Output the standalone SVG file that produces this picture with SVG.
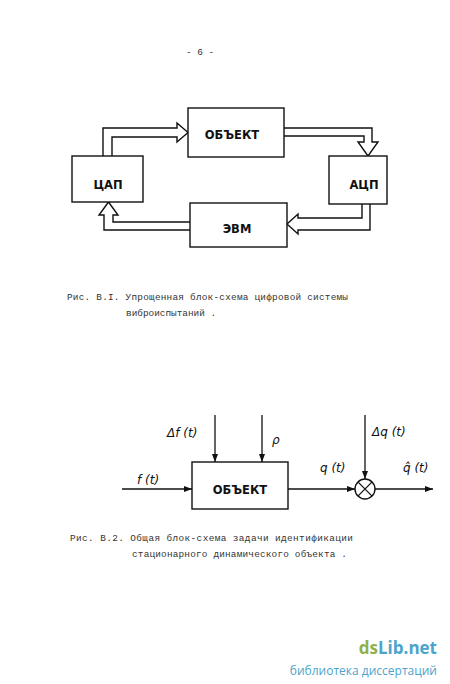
<svg xmlns="http://www.w3.org/2000/svg" width="450" height="684" viewBox="0 0 450 684">
<defs>
<style>
.box{fill:#fff;stroke:#111;stroke-width:1.4}
.ha{fill:#fff;stroke:#111;stroke-width:1.4;stroke-linejoin:miter}
.ln{fill:none;stroke:#111;stroke-width:1.3}
.lbl{font-family:"DejaVu Sans","Liberation Sans",sans-serif;font-weight:bold;font-size:11.5px;fill:#111;text-anchor:middle}
.cap{font-family:"Liberation Mono","DejaVu Sans Mono",monospace;font-size:9.4px;fill:#333}
.sig{font-family:"DejaVu Sans","Liberation Sans",sans-serif;font-style:italic;font-size:12px;fill:#111}
</style>
<marker id="ar" markerWidth="8" markerHeight="6" refX="8" refY="3" orient="auto" markerUnits="userSpaceOnUse">
<path d="M0,0 L8,3 L0,6 Z" fill="#111"/>
</marker>
</defs>
<rect width="450" height="684" fill="#fff"/>
<text x="200" y="55" class="cap" font-size="12" text-anchor="middle">- 6 -</text>

<g id="connectors-top">
<path class="ha" d="M103,156 V128 H177 V123 L188,132.5 L177,142 V137 H112 V156"/>
<path class="ha" d="M284,128 H372 V142 H378 L368,156 L358,142 H364 V136 H284"/>
<path class="ha" d="M362,204 V218 H298 V214 L287,224 L298,234 V230 H370 V204"/>
<path class="ha" d="M190,222 H113 V215 H118 L108.5,202 L99,215 H104 V230 H190"/>
</g>
<g id="obj1"><rect class="box" x="188" y="108" width="96" height="49"/><text class="lbl" x="232" y="139">ОБЪЕКТ</text></g>
<g id="dac"><rect class="box" x="72" y="156" width="71" height="46"/><text class="lbl" x="108" y="189">ЦАП</text></g>
<g id="adc"><rect class="box" x="329" y="156" width="58" height="48"/><text class="lbl" x="364" y="189">АЦП</text></g>
<g id="evm"><rect class="box" x="190" y="203" width="97" height="44"/><text class="lbl" x="237" y="233">ЭВМ</text></g>

<text class="cap" x="67" y="300" textLength="281">Рис. В.I. Упрощенная блок-схема цифровой системы</text>
<text class="cap" x="126" y="316">виброиспытаний .</text>

<g id="connectors-bottom">
<line class="ln" x1="122" y1="489" x2="192" y2="489" marker-end="url(#ar)"/>
<line class="ln" x1="215" y1="415" x2="215" y2="462" marker-end="url(#ar)"/>
<line class="ln" x1="262" y1="415" x2="262" y2="462" marker-end="url(#ar)"/>
<line class="ln" x1="288" y1="489" x2="355" y2="489" marker-end="url(#ar)"/>
<line class="ln" x1="365" y1="415" x2="365" y2="479" marker-end="url(#ar)"/>
<line class="ln" x1="375" y1="489" x2="433" y2="489" marker-end="url(#ar)"/>
</g>
<g id="obj2"><rect class="box" x="192" y="462" width="96" height="47"/><text class="lbl" x="240" y="494">ОБЪЕКТ</text></g>
<g id="sum"><circle class="box" cx="365" cy="489" r="10"/><path class="ln" d="M357.9,481.9 L372.1,496.1 M372.1,481.9 L357.9,496.1"/></g>
<text class="sig" x="137" y="484">f (t)</text>
<text class="sig" x="167" y="437">Δf (t)</text>
<text class="sig" x="272" y="444">ρ</text>
<text class="sig" x="320" y="472">q (t)</text>
<text class="sig" x="372" y="436">Δq (t)</text>
<text class="sig" x="403" y="472">q̂ (t)</text>

<text class="cap" x="70" y="541" textLength="283">Рис. В.2. Общая блок-схема задачи идентификации</text>
<text class="cap" x="132" y="557" textLength="215">стационарного динамического объекта .</text>

<text x="437" y="654" text-anchor="end" font-family="Open Sans,Liberation Sans,sans-serif" font-weight="bold" font-size="17"><tspan fill="#8fb14b">ds</tspan><tspan fill="#4ba4cc">Lib.net</tspan></text>
<text x="437" y="675" text-anchor="end" font-family="Open Sans,Liberation Sans,sans-serif" font-size="12" fill="#4ba4cc">библиотека диссертаций</text>
</svg>
